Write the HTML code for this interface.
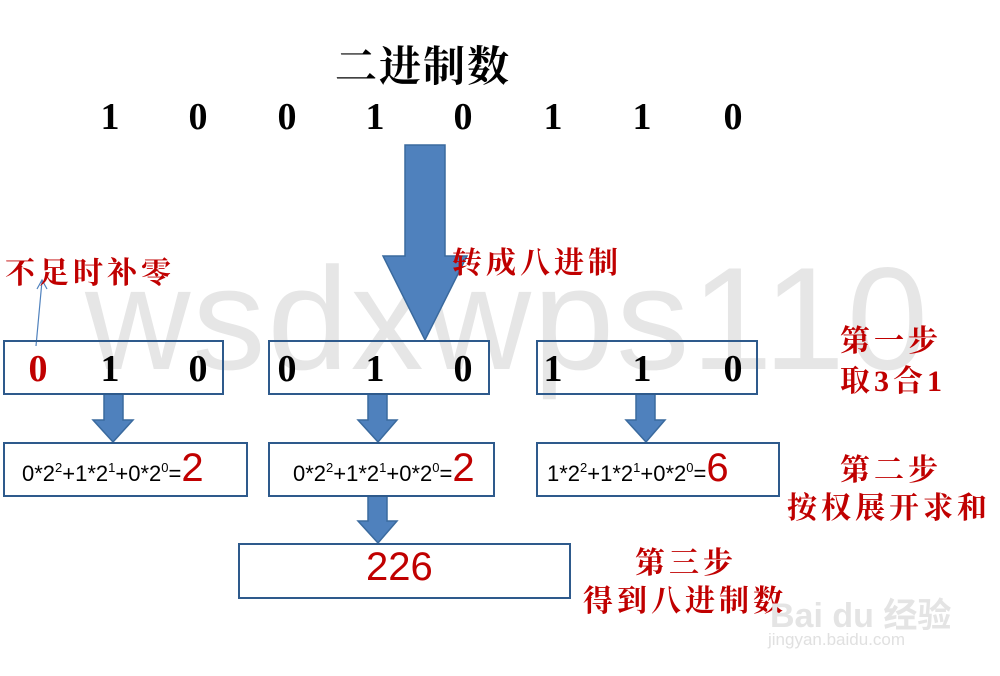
<!DOCTYPE html>
<html><head><meta charset="utf-8"><style>
html,body{margin:0;padding:0;background:#fff;}
body{width:1000px;height:676px;position:relative;overflow:hidden;font-family:"Liberation Serif","Noto Serif CJK SC",serif;}
.t{position:absolute;white-space:nowrap;}
.cn{font-family:"Liberation Serif","Noto Serif CJK SC",serif;font-weight:bold;color:#c00000;font-size:30px;letter-spacing:4px;}
.d{font-weight:bold;font-size:38px;color:#000;transform:translateX(-50%);}
.box{position:absolute;border:2px solid #2e5a8c;box-sizing:border-box;background:transparent;}
.f{font-family:"Liberation Sans","DejaVu Sans",sans-serif;font-size:22px;color:#000;}
.f sup{font-size:13px;vertical-align:9px;}
.f b{font-weight:normal;color:#c00000;font-size:40px;}
</style></head><body>
<div class="t" style="left:85px;top:235px;font-family:'Liberation Sans',sans-serif;font-size:146px;color:#e6e6e6;letter-spacing:2px;">wsdxwps110</div>
<div class="t" style="left:335px;top:34px;font-family:'Liberation Serif','Noto Serif CJK SC',serif;font-weight:bold;font-size:42px;letter-spacing:2px;color:#000;">二进制数</div>
<div class="t d" style="left:110px;top:95px;">1</div>
<div class="t d" style="left:198px;top:95px;">0</div>
<div class="t d" style="left:287px;top:95px;">0</div>
<div class="t d" style="left:375px;top:95px;">1</div>
<div class="t d" style="left:463px;top:95px;">0</div>
<div class="t d" style="left:553px;top:95px;">1</div>
<div class="t d" style="left:642px;top:95px;">1</div>
<div class="t d" style="left:733px;top:95px;">0</div>
<svg style="position:absolute;left:0;top:0" width="1000" height="676">
<g fill="#4f81bd" stroke="#3a6a9e" stroke-width="1.5">
<polygon points="405,145 445,145 445,256 467,256 425,340 383,256 405,256"/>
<polygon points="104,394 123,394 123,420 133,420 113,442 93,420 104,420"/>
<polygon points="368,394 387,394 387,420 397,420 378,442 358,420 368,420"/>
<polygon points="636,394 655,394 655,420 665,420 646,442 626,420 636,420"/>
<polygon points="368,496 387,496 387,521 397,521 378,543 358,521 368,521"/>
</g>
<line x1="36" y1="346" x2="42" y2="281" stroke="#4f81bd" stroke-width="1.2"/>
<polyline points="37,289 42,280 47,289" fill="none" stroke="#4f81bd" stroke-width="1.2"/>
</svg>
<div class="box" style="left:3px;top:340px;width:221px;height:55px;"></div>
<div class="box" style="left:268px;top:340px;width:222px;height:55px;"></div>
<div class="box" style="left:536px;top:340px;width:222px;height:55px;"></div>
<div class="t d" style="left:38px;top:347px;color:#c00000;">0</div>
<div class="t d" style="left:110px;top:347px;">1</div>
<div class="t d" style="left:198px;top:347px;">0</div>
<div class="t d" style="left:287px;top:347px;">0</div>
<div class="t d" style="left:375px;top:347px;">1</div>
<div class="t d" style="left:463px;top:347px;">0</div>
<div class="t d" style="left:553px;top:347px;">1</div>
<div class="t d" style="left:642px;top:347px;">1</div>
<div class="t d" style="left:733px;top:347px;">0</div>
<div class="box" style="left:3px;top:442px;width:245px;height:55px;"></div>
<div class="box" style="left:268px;top:442px;width:227px;height:55px;"></div>
<div class="box" style="left:536px;top:442px;width:244px;height:55px;"></div>
<div class="box" style="left:238px;top:543px;width:333px;height:56px;"></div>
<div class="t f" style="left:22px;top:446px;">0*2<sup>2</sup>+1*2<sup>1</sup>+0*2<sup>0</sup>=<b>2</b></div>
<div class="t f" style="left:293px;top:446px;">0*2<sup>2</sup>+1*2<sup>1</sup>+0*2<sup>0</sup>=<b>2</b></div>
<div class="t f" style="left:547px;top:446px;">1*2<sup>2</sup>+1*2<sup>1</sup>+0*2<sup>0</sup>=<b>6</b></div>
<div class="t" style="left:366px;top:545px;font-family:'Liberation Sans',sans-serif;font-size:40px;color:#c00000;">226</div>
<div class="t cn" style="left:5px;top:248px;">不足时补零</div>
<div class="t cn" style="left:452px;top:238px;">转成八进制</div>
<div class="t cn" style="left:840px;top:316px;">第一步</div>
<div class="t cn" style="left:840px;top:356px;">取3合1</div>
<div class="t cn" style="left:840px;top:445px;">第二步</div>
<div class="t cn" style="left:787px;top:483px;">按权展开求和</div>
<div class="t cn" style="left:635px;top:538px;">第三步</div>
<div class="t cn" style="left:583px;top:576px;">得到八进制数</div>
<div class="t" style="left:770px;top:588px;font-family:'Liberation Sans','Noto Sans CJK SC',sans-serif;font-size:34px;color:#e4e4e4;font-weight:bold;">Bai du 经验</div>
<div class="t" style="left:768px;top:630px;font-family:'Liberation Sans',sans-serif;font-size:17px;color:#e0e0e0;">jingyan.baidu.com</div>
</body></html>
